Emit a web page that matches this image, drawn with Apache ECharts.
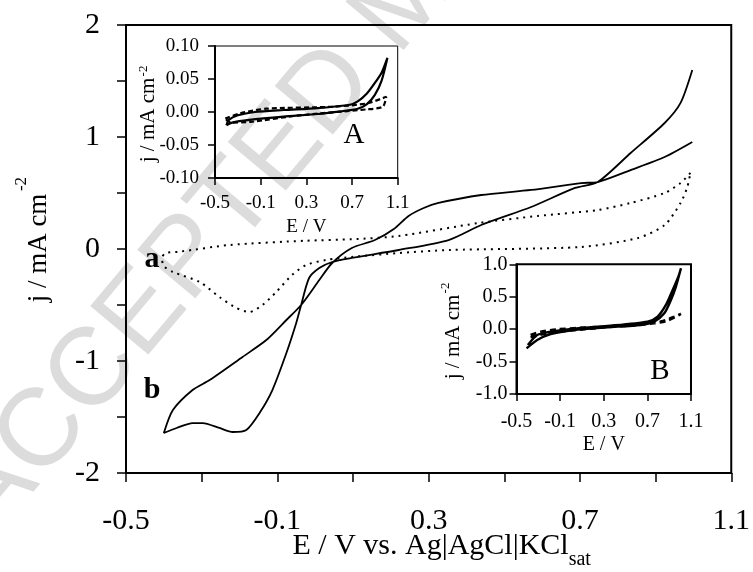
<!DOCTYPE html>
<html><head><meta charset="utf-8">
<script src="https://cdn.jsdelivr.net/npm/echarts@6/dist/echarts.min.js"></script>
<style>html,body{margin:0;padding:0;background:#fff}#c{width:753px;height:572px}</style>
</head><body><div id="c"></div>
<script>
// ---------- tick values ----------
const mainXTicks = [-0.5,-0.3,-0.1,0.1,0.3,0.5,0.7,0.9,1.1];
const mainXLabels = [-0.5,-0.1,0.3,0.7,1.1];
const mainYTicks = [-2,-1.5,-1,-0.5,0,0.5,1,1.5,2];
const mainYLabels = [-2,-1,0,1,2];
const insetXLabels = [-0.5,-0.1,0.3,0.7,1.1];
const insetAYTicks = [-0.1,-0.05,0,0.05,0.1];
const insetBYTicks = [-1,-0.5,0,0.5,1];

// ---------- main curve a (dotted) ----------
const aE = [0.992,0.966,0.924,0.834,0.747,0.589,0.432,0.221,0.097,-0.024,-0.226,-0.358,-0.395,-0.405,-0.400,-0.376,-0.305,-0.253,-0.208,-0.174,-0.139,-0.103,-0.061,-0.024,0.029,0.097,0.221,0.353,0.703,0.853,0.924,0.966,0.984,0.992];
const aJ = [0.679,0.589,0.500,0.411,0.348,0.295,0.232,0.116,0.087,0.074,0.036,-0.024,-0.036,-0.080,-0.152,-0.205,-0.295,-0.429,-0.527,-0.563,-0.500,-0.384,-0.232,-0.143,-0.098,-0.071,-0.036,-0.009,0.018,0.098,0.214,0.411,0.554,0.679];

// ---------- main curve b (solid) ----------
const bE = [0.997,0.966,0.924,0.834,0.747,0.687,0.571,0.439,0.353,0.221,0.097,0.045,0.011,-0.016,-0.037,-0.050,-0.076,-0.113,-0.147,-0.182,-0.218,-0.253,-0.297,-0.324,-0.366,-0.400,-0.376,-0.324,-0.279,-0.192,-0.129,-0.076,-0.037,0.011,0.045,0.097,0.158,0.208,0.247,0.287,0.326,0.439,0.571,0.703,0.747,0.834,0.924,0.997];
const bJ = [1.598,1.304,1.125,0.857,0.598,0.545,0.375,0.214,0.080,-0.009,-0.080,-0.116,-0.170,-0.259,-0.500,-0.661,-0.929,-1.259,-1.464,-1.616,-1.634,-1.598,-1.554,-1.554,-1.598,-1.643,-1.438,-1.259,-1.170,-0.964,-0.813,-0.634,-0.500,-0.277,-0.125,0.009,0.080,0.179,0.295,0.366,0.411,0.482,0.527,0.589,0.598,0.705,0.821,0.955];

// ---------- inset A ----------
const AsE = [-0.40,-0.35,-0.20,0.10,0.40,0.60,0.75,0.83,0.90,0.96,1.01,0.96,0.90,0.83,0.75,0.68,0.40,0.10,-0.15,-0.30,-0.38,-0.40];
const AsJ = [-0.020,-0.016,-0.012,-0.007,-0.003,0.001,0.005,0.012,0.026,0.048,0.082,0.060,0.044,0.028,0.016,0.011,0.006,0.003,0.000,-0.005,-0.012,-0.020];
const AdE = [-0.41,-0.28,-0.05,0.54,0.83,0.97,1.00,0.97,0.83,0.24,-0.19,-0.36,-0.41];
const AdJ = [-0.010,-0.002,0.005,0.008,0.013,0.021,0.023,0.008,0.004,-0.005,-0.015,-0.016,-0.010];

// ---------- inset B ----------
const BsE = [-0.408,-0.310,-0.187,0.027,0.334,0.640,0.763,0.855,0.916,0.962,1.008,0.984,0.932,0.870,0.794,0.702,0.334,0.027,-0.187,-0.310,-0.396];
const BsJ = [-0.296,-0.167,-0.075,-0.013,0.028,0.064,0.116,0.244,0.450,0.656,0.938,0.810,0.604,0.373,0.193,0.116,0.049,0.008,-0.039,-0.090,-0.244];
const BdE = [-0.371,-0.279,-0.126,0.180,0.487,0.763,0.885,1.008,0.947,0.824,0.640,0.180,-0.187,-0.371];
const BdJ = [-0.090,-0.039,-0.003,0.028,0.049,0.090,0.131,0.234,0.193,0.116,0.080,0.008,-0.054,-0.126];

const pairs = (xs, ys) => xs.map((x, i) => [x, ys[i]]);
const SERIF = '"Liberation Serif", "Times New Roman", serif';
function tw(text, font){ const c=document.createElement('canvas').getContext('2d'); c.font=font; return c.measureText(text).width; }

const chart = echarts.init(document.getElementById('c'), null, {renderer:'canvas'});

function xAx(gi, ticks, labels, fs, margin, tickLen, name, nameGap, nameFs){
  return {type:'value', gridIndex:gi, min:-0.5, max:1.1,
    axisLine:{show:true, onZero:false, lineStyle:{color:'#000', width:2}},
    axisTick:{show:true, inside:false, length:tickLen, customValues:ticks, lineStyle:{color:'#000', width:1.5}},
    axisLabel:{show:true, customValues:labels, formatter:v=>(+v).toFixed(1), fontSize:fs, fontFamily:SERIF, color:'#000', margin:margin},
    splitLine:{show:false},
    name:name, nameLocation:'middle', nameGap:nameGap, nameTextStyle:{fontSize:nameFs, fontFamily:SERIF, color:'#000'}
  };
}
function yAx(gi, min, max, ticks, labels, dec, fs, margin, tickLen){
  return {type:'value', gridIndex:gi, min:min, max:max,
    axisLine:{show:true, onZero:false, lineStyle:{color:'#000', width:2}},
    axisTick:{show:true, inside:false, length:tickLen, customValues:ticks, lineStyle:{color:'#000', width:1.5}},
    axisLabel:{show:true, customValues:labels, formatter:v=>{const s=(+v).toFixed(dec); return /^-0(\.0+)?$/.test(s)?s.slice(1):s;}, fontSize:fs, fontFamily:SERIF, color:'#000', margin:margin},
    splitLine:{show:false}
  };
}

const xt = 'E / V vs. Ag|AgCl|KCl';
const xtFont = '30px ' + SERIF;
const subFont = '20px ' + SERIF;
const W1 = tw(xt, xtFont), W2 = tw('sat', subFont);
const xStart = 441.7 - (W1 + W2) / 2;

const line = (xi, data, width, type) => ({type:'line', xAxisIndex:xi, yAxisIndex:xi, data:data, showSymbol:false, symbol:'none', smooth:0.25, silent:true,
  lineStyle:{color:'#000', width:width, type:type}});

chart.setOption({
  animation:false,
  backgroundColor:'#fff',
  grid:[
    {left:126, top:25, width:607.7, height:448, show:true, borderColor:'#000', borderWidth:2, backgroundColor:'transparent'},
    {left:215, top:46, width:182.7, height:132, show:true, borderColor:'#000', borderWidth:1, backgroundColor:'transparent'},
    {left:516.5, top:264.3, width:174.5, height:129.7, show:true, borderColor:'#000', borderWidth:2, backgroundColor:'transparent'}
  ],
  xAxis:[
    xAx(0, mainXTicks, mainXLabels, 30, 33, 9, '', 0, 10),
    xAx(1, insetXLabels, insetXLabels, 19, 16, 7, 'E / V', 40, 19),
    xAx(2, insetXLabels, insetXLabels, 20, 18, 7, 'E / V', 41, 20)
  ],
  yAxis:[
    yAx(0, -2, 2, mainYTicks, mainYLabels, 0, 30, 26, 9),
    yAx(1, -0.1, 0.1, insetAYTicks, insetAYTicks, 2, 19, 16, 7),
    yAx(2, -1, 1, insetBYTicks, insetBYTicks, 1, 20, 9, 7)
  ],
  series:[
    line(0, pairs(aE, aJ), 2, [2,5]),
    line(0, pairs(bE, bJ), 1.8, 'solid'),
    line(1, pairs(AsE, AsJ), 2.2, 'solid'),
    line(1, pairs(AdE, AdJ), 2.2, [5,3]),
    line(2, pairs(BsE, BsJ), 2.4, 'solid'),
    line(2, pairs(BdE, BdJ), 2.6, [6,4])
  ],
  graphic:[
    {type:'text', z:-10, x:-30, y:520, rotation:0.873, silent:true,
     style:{text:'ACCEPTED MANUSCRIPT', font:'110px "Liberation Sans"', fill:'#dcdcdc', align:'left', verticalAlign:'middle'}},
    // main y title
    {type:'text', x:39, y:248, rotation:Math.PI/2, style:{text:'j / mA cm', font:'27px '+SERIF, fill:'#000', align:'center', verticalAlign:'middle'}},
    {type:'text', x:22, y:184, rotation:Math.PI/2, style:{text:'-2', font:'17px '+SERIF, fill:'#000', align:'center', verticalAlign:'middle'}},
    // main x title
    {type:'text', x:xStart, y:556 - 0.3375*30, style:{text:xt, font:xtFont, fill:'#000', align:'left', verticalAlign:'middle'}},
    {type:'text', x:xStart + W1, y:566 - 0.3375*20, style:{text:'sat', font:subFont, fill:'#000', align:'left', verticalAlign:'middle'}},
    // inset A title
    {type:'text', x:148, y:120, rotation:Math.PI/2, style:{text:'j / mA cm', font:'21px '+SERIF, fill:'#000', align:'center', verticalAlign:'middle'}},
    {type:'text', x:144, y:71, rotation:Math.PI/2, style:{text:'-2', font:'13px '+SERIF, fill:'#000', align:'center', verticalAlign:'middle'}},
    // inset B title
    {type:'text', x:453, y:337, rotation:Math.PI/2, style:{text:'j / mA cm', font:'21px '+SERIF, fill:'#000', align:'center', verticalAlign:'middle'}},
    {type:'text', x:446, y:288, rotation:Math.PI/2, style:{text:'-2', font:'13px '+SERIF, fill:'#000', align:'center', verticalAlign:'middle'}},
    // panel letters
    {type:'text', x:354, y:135.5, style:{text:'A', font:'29px '+SERIF, fill:'#000', align:'center', verticalAlign:'middle'}},
    {type:'text', x:660, y:371, style:{text:'B', font:'29px '+SERIF, fill:'#000', align:'center', verticalAlign:'middle'}},
    {type:'text', x:152, y:259, style:{text:'a', font:'bold 30px '+SERIF, fill:'#000', align:'center', verticalAlign:'middle'}},
    {type:'text', x:152, y:390, style:{text:'b', font:'bold 30px '+SERIF, fill:'#000', align:'center', verticalAlign:'middle'}}
  ]
});
</script>
</body></html>
